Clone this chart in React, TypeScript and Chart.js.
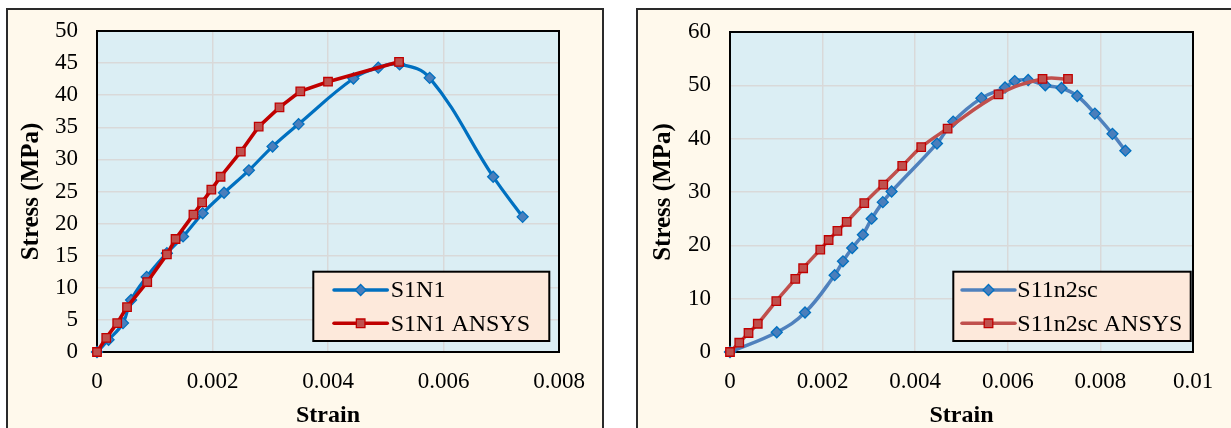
import React, { useEffect, useRef } from 'react';
import { Chart, registerables } from 'chart.js';

Chart.register(...registerables);

// ---------- Data ----------
const s1n1Strain = [0, 0.0002, 0.00045, 0.00059, 0.00086, 0.00121, 0.00149, 0.00183, 0.0022, 0.00263, 0.00304, 0.00349, 0.00444, 0.00487, 0.00524, 0.00576, 0.00686, 0.00737];
const s1n1Stress = [0, 1.9, 4.5, 8.1, 11.7, 15.4, 18.0, 21.6, 24.8, 28.3, 32.0, 35.5, 42.6, 44.3, 44.8, 42.7, 27.3, 21.05];

const s1n1AnsysStrain = [0, 0.00016, 0.00035, 0.00052, 0.00087, 0.00121, 0.00136, 0.00167, 0.00182, 0.00198, 0.00214, 0.00249, 0.0028, 0.00316, 0.00352, 0.004, 0.00523];
const s1n1AnsysStress = [0, 2.2, 4.5, 7.0, 10.9, 15.2, 17.6, 21.4, 23.3, 25.3, 27.3, 31.2, 35.1, 38.1, 40.6, 42.1, 45.2];

const s11Strain = [0, 0.00101, 0.00162, 0.00226, 0.00244, 0.00264, 0.00287, 0.00306, 0.0033, 0.00349, 0.00447, 0.00482, 0.00543, 0.00594, 0.00615, 0.00644, 0.00681, 0.00716, 0.0075, 0.00788, 0.00826, 0.00854];
const s11Stress = [0, 3.7, 7.4, 14.4, 17.0, 19.5, 22.0, 25.0, 28.1, 30.1, 39.1, 43.2, 47.6, 49.6, 50.8, 51.0, 50.0, 49.5, 48.0, 44.7, 40.9, 37.75];

const s11AnsysStrain = [0, 0.0002, 0.0004, 0.0006, 0.001, 0.00141, 0.00158, 0.00195, 0.00213, 0.00232, 0.00252, 0.0029, 0.00331, 0.00372, 0.00413, 0.0047, 0.0058, 0.00675, 0.0073];
const s11AnsysStress = [0, 1.74, 3.56, 5.3, 9.55, 13.7, 15.7, 19.2, 21.0, 22.7, 24.4, 27.9, 31.4, 34.9, 38.4, 41.9, 48.3, 51.2, 51.2];

const leftXTicks = [0, 0.002, 0.004, 0.006, 0.008];
const leftYTicks = [0, 5, 10, 15, 20, 25, 30, 35, 40, 45, 50];
const rightXTicks = [0, 0.002, 0.004, 0.006, 0.008, 0.01];
const rightYTicks = [0, 10, 20, 30, 40, 50, 60];

const leftLabels = ['S1N1', 'S1N1 ANSYS'];
const rightLabels = ['S11n2sc', 'S11n2sc ANSYS'];

const xTitle = 'Strain';
const yTitle = 'Stress (MPa)';

// ---------- Styling ----------
const FONT = "'Liberation Serif', 'Times New Roman', serif";
const PANEL_BG = '#FFF9EC';
const PLOT_BG = '#DBEEF4';
const GRID = '#D9D9D9';
const LEGEND_BG = '#FDE9DB';
const CLEAR = 'rgba(0,0,0,0)';

const fmt = (v: number) => String(parseFloat(Number(v).toFixed(4)));
const toPts = (xs: number[], ys: number[]) => xs.map((x, i) => ({ x, y: ys[i] }));

type LegendItem = { label: string; line: string; fill: string; stroke: string; style: 'diamond' | 'square' };

function drawMarker(ctx: CanvasRenderingContext2D, style: string, x: number, y: number, fill: string, stroke: string) {
  ctx.beginPath();
  if (style === 'diamond') {
    const r = 5.5;
    ctx.moveTo(x, y - r);
    ctx.lineTo(x + r, y);
    ctx.lineTo(x, y + r);
    ctx.lineTo(x - r, y);
    ctx.closePath();
  } else {
    const s = 4.3;
    ctx.rect(x - s, y - s, 2 * s, 2 * s);
  }
  ctx.fillStyle = fill;
  ctx.fill();
  ctx.lineWidth = 1.3;
  ctx.strokeStyle = stroke;
  ctx.stroke();
}

function makePlugins(legend: { box: [number, number, number, number]; lineX: [number, number]; textX: number; rows: number[]; items: LegendItem[] }) {
  return [
    {
      id: 'plotBg',
      beforeDraw(chart: any) {
        const { ctx, chartArea: a } = chart;
        ctx.save();
        ctx.fillStyle = PLOT_BG;
        ctx.fillRect(a.left, a.top, a.right - a.left, a.bottom - a.top);
        ctx.restore();
      },
    },
    {
      id: 'plotBorder',
      beforeDatasetsDraw(chart: any) {
        const { ctx, chartArea: a } = chart;
        ctx.save();
        ctx.strokeStyle = '#000';
        ctx.lineWidth = 2;
        ctx.strokeRect(a.left, a.top, a.right - a.left, a.bottom - a.top);
        ctx.restore();
      },
    },
    {
      id: 'boxLegend',
      afterDraw(chart: any) {
        const { ctx } = chart;
        const [x0, y0, x1, y1] = legend.box;
        ctx.save();
        ctx.fillStyle = LEGEND_BG;
        ctx.fillRect(x0, y0, x1 - x0, y1 - y0);
        ctx.strokeStyle = '#000';
        ctx.lineWidth = 2;
        ctx.strokeRect(x0, y0, x1 - x0, y1 - y0);
        legend.items.forEach((it, i) => {
          const y = legend.rows[i];
          ctx.beginPath();
          ctx.moveTo(legend.lineX[0], y);
          ctx.lineTo(legend.lineX[1], y);
          ctx.strokeStyle = it.line;
          ctx.lineWidth = 3.5;
          ctx.lineCap = 'round';
          ctx.stroke();
          drawMarker(ctx, it.style, (legend.lineX[0] + legend.lineX[1]) / 2, y, it.fill, it.stroke);
          ctx.fillStyle = '#000';
          ctx.font = `24px ${FONT}`;
          ctx.textAlign = 'left';
          ctx.textBaseline = 'middle';
          ctx.fillText(it.label, legend.textX, y + 1);
        });
        ctx.restore();
      },
    },
  ];
}

function makeScales(xMax: number, yMax: number, xTicks: number[], yTicks: number[], yAxisWidth: number, yTitlePad: number) {
  return {
    x: {
      type: 'linear',
      min: 0,
      max: xMax,
      afterBuildTicks: (s: any) => { s.ticks = xTicks.map((v) => ({ value: v })); },
      afterFit: (s: any) => { s.height = 76; },
      grid: { color: GRID, lineWidth: 1.5, drawTicks: true, tickLength: 13, tickColor: CLEAR },
      border: { display: false },
      ticks: { color: '#000', padding: 3, maxRotation: 0, autoSkip: false, font: { family: FONT, size: 23 }, callback: (v: any) => fmt(v) },
      title: { display: true, text: xTitle, color: '#000', font: { family: FONT, size: 24, weight: 'bold', lineHeight: 1 }, padding: { top: 0, bottom: 0 } },
    },
    y: {
      type: 'linear',
      min: 0,
      max: yMax,
      afterBuildTicks: (s: any) => { s.ticks = yTicks.map((v) => ({ value: v })); },
      afterFit: (s: any) => { s.width = yAxisWidth; },
      grid: { color: GRID, lineWidth: 1.5, drawTicks: true, tickLength: 16, tickColor: CLEAR },
      border: { display: false },
      ticks: { color: '#000', padding: 3, autoSkip: false, font: { family: FONT, size: 23 }, callback: (v: any) => fmt(v) },
      title: { display: true, text: yTitle, color: '#000', font: { family: FONT, size: 25, weight: 'bold', lineHeight: 1 }, padding: { top: yTitlePad, bottom: 0 } },
    },
  };
}

const leftConfig: any = {
  type: 'scatter',
  data: {
    datasets: [
      {
        label: leftLabels[0],
        data: toPts(s1n1Strain, s1n1Stress),
        showLine: true,
        borderColor: '#0070C0',
        borderWidth: 3.2,
        tension: 0.4,
        pointStyle: 'rectRot',
        pointRadius: 5.5,
        pointBackgroundColor: '#4A7EBB',
        pointBorderColor: '#0070C0',
        pointBorderWidth: 1.3,
        clip: false,
        order: 2,
      },
      {
        label: leftLabels[1],
        data: toPts(s1n1AnsysStrain, s1n1AnsysStress),
        showLine: true,
        borderColor: '#C00000',
        borderWidth: 3.6,
        tension: 0,
        pointStyle: 'rect',
        pointRadius: 6,
        pointBackgroundColor: '#C0504D',
        pointBorderColor: '#C00000',
        pointBorderWidth: 1.3,
        clip: false,
        order: 1,
      },
    ],
  },
  options: {
    responsive: false,
    animation: false,
    events: [],
    layout: { padding: { left: 0, top: 21, right: 43, bottom: 0 } },
    plugins: { legend: { display: false }, tooltip: { enabled: false } },
    scales: makeScales(0.008, 50, leftXTicks, leftYTicks, 89, 11.5),
  },
  plugins: makePlugins({
    box: [305.3, 261.7, 541.3, 331],
    lineX: [326, 379.3],
    textX: 382.7,
    rows: [280, 313.3],
    items: [
      { label: leftLabels[0], line: '#0070C0', fill: '#4A7EBB', stroke: '#0070C0', style: 'diamond' },
      { label: leftLabels[1], line: '#C00000', fill: '#C0504D', stroke: '#C00000', style: 'square' },
    ],
  }),
};

const rightConfig: any = {
  type: 'scatter',
  data: {
    datasets: [
      {
        label: rightLabels[0],
        data: toPts(s11Strain, s11Stress),
        showLine: true,
        borderColor: '#4F81BD',
        borderWidth: 3.5,
        tension: 0.4,
        pointStyle: 'rectRot',
        pointRadius: 5.5,
        pointBackgroundColor: '#4A7EBB',
        pointBorderColor: '#0070C0',
        pointBorderWidth: 1.3,
        clip: false,
        order: 2,
      },
      {
        label: rightLabels[1],
        data: toPts(s11AnsysStrain, s11AnsysStress),
        showLine: true,
        borderColor: '#C0504D',
        borderWidth: 3.5,
        tension: 0.4,
        pointStyle: 'rect',
        pointRadius: 6,
        pointBackgroundColor: '#C0504D',
        pointBorderColor: '#C00000',
        pointBorderWidth: 1.3,
        clip: false,
        order: 1,
      },
    ],
  },
  options: {
    responsive: false,
    animation: false,
    events: [],
    layout: { padding: { left: 0, top: 22, right: 38, bottom: 0 } },
    plugins: { legend: { display: false }, tooltip: { enabled: false } },
    scales: makeScales(0.01, 60, rightXTicks, rightYTicks, 92, 13.5),
  },
  plugins: makePlugins({
    box: [315.3, 261.7, 552.7, 331],
    lineX: [324, 377],
    textX: 379.3,
    rows: [280, 313.3],
    items: [
      { label: rightLabels[0], line: '#4F81BD', fill: '#4A7EBB', stroke: '#0070C0', style: 'diamond' },
      { label: rightLabels[1], line: '#C0504D', fill: '#C0504D', stroke: '#C00000', style: 'square' },
    ],
  }),
};

function ChartCanvas({ left, top, width, height, config }: { left: number; top: number; width: number; height: number; config: any }) {
  const ref = useRef<HTMLCanvasElement | null>(null);
  useEffect(() => {
    if (!ref.current) return;
    const chart = new Chart(ref.current, config);
    return () => chart.destroy();
  }, [config]);
  return (
    <canvas
      ref={ref}
      width={width}
      height={height}
      style={{ position: 'absolute', left, top, width, height, display: 'block' }}
    />
  );
}

export default function App() {
  return (
    <div style={{ position: 'fixed', left: 0, top: 0, width: 1231, height: 428, overflow: 'hidden', background: '#fff' }}>
      <div style={{ position: 'absolute', left: 6, top: 8, width: 594, height: 440, border: '2px solid #2a2a2a', background: PANEL_BG }} />
      <div style={{ position: 'absolute', left: 636, top: 8, width: 620, height: 440, border: '2px solid #2a2a2a', background: PANEL_BG }} />
      <ChartCanvas left={8} top={10} width={594} height={418} config={leftConfig} />
      <ChartCanvas left={638} top={10} width={593} height={418} config={rightConfig} />
    </div>
  );
}
